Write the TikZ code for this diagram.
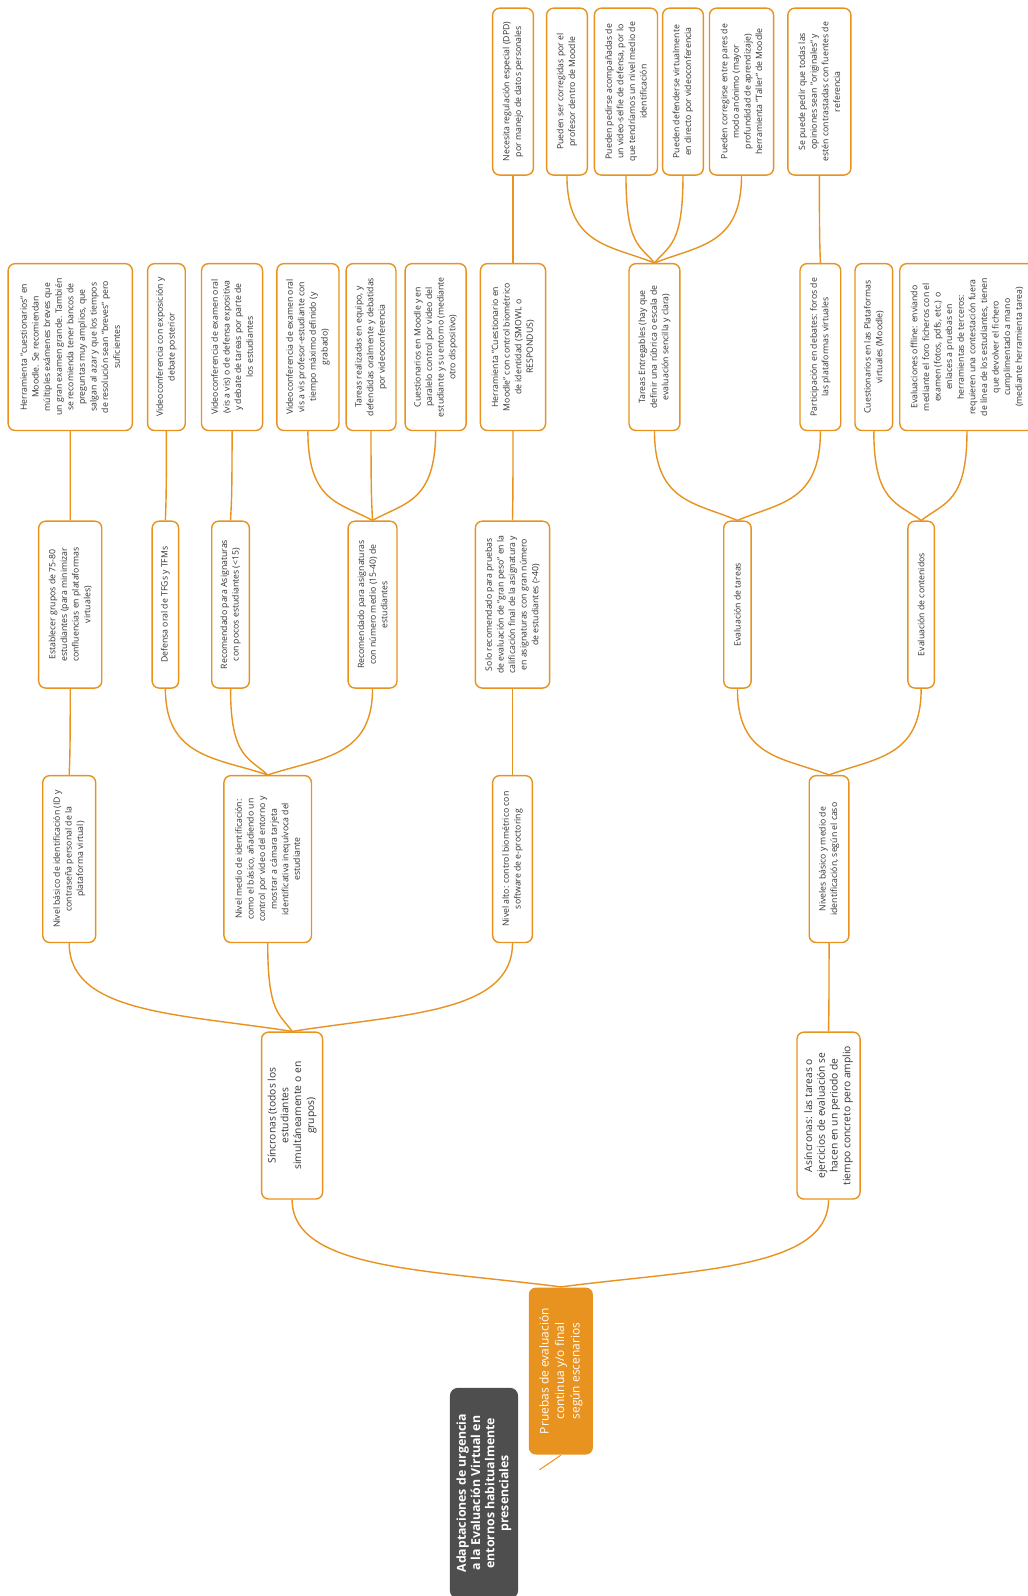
\documentclass[tikz,border=0pt]{standalone}
\usepackage{fontspec}
\setmainfont{Open Sans}
\usetikzlibrary{calc}
\definecolor{mmorange}{RGB}{232,146,32}
\definecolor{mmtext}{RGB}{51,51,51}
\definecolor{mmtitle}{RGB}{78,78,78}
\newcommand\mmconn[2]{\draw[mmline] let \p1=(#1.east), \p2=(#2.west) in (\p1) .. controls ({0.5*\x1+0.5*\x2},{0.8*\y1+0.2*\y2}) and (\x2,{0.8*\y1+0.2*\y2}) .. (\p2);}
\begin{document}
\begin{tikzpicture}[x=1.0178pt,y=-1.0178pt,
  mmbox/.style={draw=mmorange, line width=1.4pt, rounded corners=7pt, fill=white, rotate=90, align=center, inner sep=1pt, text=mmtext, minimum width=166.9pt, font=\fontsize{8.7}{11.6}\selectfont},
  bw/.style={minimum height=#1*1.0178pt},
  midtext/.style={font=\fontsize{10.3}{12.8}\selectfont},
  rootst/.style={draw=none, fill=mmorange, text=white, font=\fontsize{12}{15.5}\selectfont},
  titlest/.style={fill=mmtitle, rounded corners=8pt, rotate=90, align=center, text=white, inner sep=1pt, font=\bfseries\fontsize{12.3}{14.2}\selectfont, minimum width=207*1.0178pt, minimum height=67*1.0178pt},
  mmline/.style={draw=mmorange, line width=1.4pt},
]
\useasboundingbox (0,0) rectangle (1009,1568);
\fill[white] (0,0) rectangle (1009,1568);

% top row
\node[mmbox, bw=40] (n1) at (504,90) {Necesita regulación especial (DPD)\\por manejo de datos personales};
\node[mmbox, bw=40] (t1) at (557,90) {Pueden ser corregidas por el\\profesor dentro de Moodle};
\node[mmbox, bw=62] (t2) at (615,90) {Pueden pedirse acompañadas de\\un video-selfie de defensa, por lo\\que tendríamos un nivel medio de\\identificación};
\node[mmbox, bw=40] (t3) at (671,90) {Pueden defenderse virtualmente\\en directo por videoconferencia};
\node[mmbox, bw=63] (t4) at (728.5,90) {Pueden corregirse entre pares de\\modo anónimo (mayor\\profundidad de aprendizaje)\\herramienta "Taller" de Moodle};
\node[mmbox, bw=62] (p1) at (805,90) {Se puede pedir que todas las\\opiniones sean "originales" y\\estén contrastadas con fuentes de\\referencia};

% row 2
\node[mmbox, bw=122] (e1) at (69,341) {Herramienta "cuestionarios" en\\Moodle. Se recomiendan\\múltiples exámenes breves que\\un gran examen grande. También\\se recomienda tener bancos de\\preguntas muy amplios, que\\salgan al azar y que los tiempos\\de resolución sean "breves" pero\\suficientes};
\node[mmbox, bw=37] (d1) at (163.5,341) {Videoconferencia con exposición y\\debate posterior};
\node[mmbox, bw=60] (r1) at (228,341) {Videoconferencia de examen oral\\(vis a vis) o de defensa expositiva\\y debate de tareas por parte de\\los estudiantes};
\node[mmbox, bw=61] (m1) at (302.5,341) {Videoconferencia de examen oral\\vis a vis profesor-estudiante con\\tiempo máximo definido (y\\grabado)};
\node[mmbox, bw=49] (m2) at (364.5,341) {Tareas realizadas en equipo, y\\defendidas oralmente y debatidas\\por videoconferencia};
\node[mmbox, bw=60] (m3) at (428,341) {Cuestionarios en Moodle y en\\paralelo control por video del\\estudiante y su entorno (mediante\\otro dispositivo)};
\node[mmbox, bw=64] (h2) at (504,341) {Herramienta "Cuestionario en\\Moodle" con control biométrico\\de identidad (SMOWL o\\RESPONDUS)};
\node[mmbox, bw=50] (te) at (643,341) {Tareas Entregables (hay que\\definir una rúbrica o escala de\\evaluación sencilla y clara)};
\node[mmbox, bw=40] (pa) at (806,341) {Participación en debates: foros de\\las plataformas virtuales};
\node[mmbox, bw=37] (cp) at (858.5,341) {Cuestionarios en las Plataformas\\virtuales (Moodle)};
\node[mmbox, bw=132] (of) at (950,341) {Evaluaciones offline: enviando\\mediante el foro ficheros con el\\examen (fotos, pdfs, etc.) o\\enlaces a pruebas en\\herramientas de terceros:\\requieren una contestación fuera\\de línea de los estudiantes, tienen\\que devolver el fichero\\cumplimentado a mano\\(mediante herramienta tarea)};

% row 3
\node[mmbox, bw=62] (es) at (69,594) {Establecer grupos de 75-80\\estudiantes (para minimizar\\confluencias en plataformas\\virtuales)};
\node[mmbox, bw=26] (df) at (162.5,594) {Defensa oral de TFGs y TFMs};
\node[mmbox, bw=37] (rp) at (226.5,594) {Recomendado para Asignaturas\\con pocos estudiantes (<15)};
\node[mmbox, bw=48] (rm) at (366,594) {Recomendado para asignaturas\\con número medio (15-40) de\\estudiantes};
\node[mmbox, bw=73] (so) at (503.5,594) {Solo recomendado para pruebas\\de evaluación de "gran peso" en la\\calificación final de la asignatura y\\en asignaturas con gran número\\de estudiantes (>40)};
\node[mmbox, bw=27] (et) at (724.5,594) {Evaluación de tareas};
\node[mmbox, bw=26] (ec) at (905,594) {Evaluación de contenidos};

% row 4
\node[mmbox, bw=52] (nb) at (68,844) {Nivel básico de identificación (ID y\\contraseña personal de la\\plataforma virtual)};
\node[mmbox, bw=86] (nm) at (263,844) {Nivel medio de identificación:\\como el básico, añadiendo un\\control por video del entorno y\\mostrar a cámara tarjeta\\identificativa inequívoca del\\estudiante};
\node[mmbox, bw=39] (na) at (503.5,844) {Nivel alto: control biométrico con\\software de e-proctoring};
\node[mmbox, bw=39] (nv) at (814.5,844) {Niveles básico y medio de\\identificación, según el caso};

% row 5
\node[mmbox, midtext, bw=60] (si) at (287,1096) {Síncronas (todos los\\estudiantes\\simultáneamente o en\\grupos)};
\node[mmbox, midtext, bw=62] (as) at (814,1096) {Asíncronas: las tareas o\\ejercicios de evaluación se\\hacen en un periodo de\\tiempo concreto pero amplio};

% root and title
\node[mmbox, rootst, bw=63] (ro) at (551,1347) {Pruebas de evaluación\\continua y/o final\\según escenarios};
\node[titlest] (ti) at (475.5,1467) {Adaptaciones de urgencia\\a la Evaluación Virtual en\\entornos habitualmente\\presenciales};
\coordinate (tl) at (530,1444);

% connectors
\draw[mmline, line width=1pt] (ro.west) -- (tl);
\mmconn{ro}{si}
\mmconn{ro}{as}
\mmconn{si}{nb}
\mmconn{si}{nm}
\mmconn{si}{na}
\mmconn{nb}{es}
\mmconn{es}{e1}
\mmconn{nm}{df}
\mmconn{nm}{rp}
\mmconn{nm}{rm}
\mmconn{df}{d1}
\mmconn{rp}{r1}
\mmconn{rm}{m1}
\mmconn{rm}{m2}
\mmconn{rm}{m3}
\mmconn{na}{so}
\mmconn{so}{h2}
\mmconn{h2}{n1}
\mmconn{as}{nv}
\mmconn{nv}{et}
\mmconn{nv}{ec}
\mmconn{et}{te}
\mmconn{et}{pa}
\mmconn{te}{t1}
\mmconn{te}{t2}
\mmconn{te}{t3}
\mmconn{te}{t4}
\mmconn{pa}{p1}
\mmconn{ec}{cp}
\mmconn{ec}{of}
\end{tikzpicture}
\end{document}
